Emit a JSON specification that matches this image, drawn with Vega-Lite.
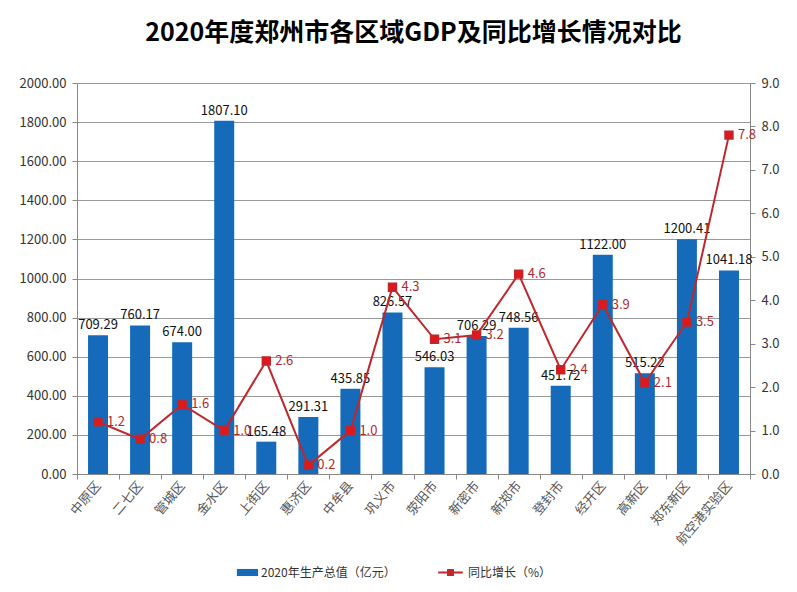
{
  "$schema": "https://vega.github.io/schema/vega-lite/v6.json",
  "width": 673,
  "height": 391,
  "autosize": {"type": "none"},
  "padding": {"left": 77, "top": 83, "right": 47, "bottom": 118},
  "background": "white",
  "title": {
    "text": "2020年度郑州市各区域GDP及同比增长情况对比",
    "fontSize": 25,
    "fontWeight": "bold",
    "font": "Noto Sans CJK SC",
    "color": "#000000",
    "anchor": "middle",
    "offset": 31
  },
  "config": {
    "view": {"stroke": null},
    "axis": {"labelFont": "Noto Sans CJK SC", "titleFont": "Noto Sans CJK SC"},
    "text": {"font": "Noto Sans CJK SC"}
  },
  "data": {
    "values": [
      {"district": "中原区", "gdp": 709.29, "growth": 1.2},
      {"district": "二七区", "gdp": 760.17, "growth": 0.8},
      {"district": "管城区", "gdp": 674.00, "growth": 1.6},
      {"district": "金水区", "gdp": 1807.10, "growth": 1.0},
      {"district": "上街区", "gdp": 165.48, "growth": 2.6},
      {"district": "惠济区", "gdp": 291.31, "growth": 0.2},
      {"district": "中牟县", "gdp": 435.85, "growth": 1.0},
      {"district": "巩义市", "gdp": 826.57, "growth": 4.3},
      {"district": "荥阳市", "gdp": 546.03, "growth": 3.1},
      {"district": "新密市", "gdp": 706.29, "growth": 3.2},
      {"district": "新郑市", "gdp": 748.56, "growth": 4.6},
      {"district": "登封市", "gdp": 451.72, "growth": 2.4},
      {"district": "经开区", "gdp": 1122.00, "growth": 3.9},
      {"district": "高新区", "gdp": 515.22, "growth": 2.1},
      {"district": "郑东新区", "gdp": 1200.41, "growth": 3.5},
      {"district": "航空港实验区", "gdp": 1041.18, "growth": 7.8}
    ]
  },
  "encoding": {
    "x": {
      "field": "district",
      "type": "nominal",
      "sort": null,
      "scale": {"paddingInner": 0, "paddingOuter": 0},
      "axis": {
        "title": null,
        "labelAngle": -50,
        "labelAlign": "right",
        "labelBaseline": "middle",
        "labelFontSize": 13,
        "labelColor": "#555555",
        "labelPadding": 4,
        "tickBand": "extent",
        "tickSize": 5,
        "tickColor": "#888888",
        "domainColor": "#888888",
        "grid": false
      }
    }
  },
  "layer": [
    {
      "encoding": {
        "y": {
          "field": "gdp",
          "type": "quantitative",
          "scale": {"domain": [0, 2000], "nice": false},
          "axis": {
            "title": null,
            "orient": "left",
            "values": [0, 200, 400, 600, 800, 1000, 1200, 1400, 1600, 1800, 2000],
            "format": ".2f",
            "labelFontSize": 13,
            "labelColor": "#333333",
            "labelPadding": 6,
            "tickSize": 5,
            "tickColor": "#888888",
            "domainColor": "#888888",
            "grid": true,
            "gridColor": "#999999",
            "gridWidth": 1
          }
        }
      },
      "layer": [
        {
          "mark": {"type": "bar", "size": 20},
          "encoding": {
            "fill": {
              "datum": "2020年生产总值（亿元）",
              "scale": {"range": ["#156BBA"]},
              "legend": {
                "title": null,
                "orient": "none",
                "legendX": 163,
                "legendY": 482,
                "symbolType": "M-1.5,-0.5H1.5V0.5H-1.5Z",
                "symbolSize": 200,
                "symbolStrokeWidth": 0,
                "labelFont": "Noto Sans CJK SC",
                "labelFontSize": 12,
                "labelColor": "#333333",
                "labelOffset": 6
              }
            }
          }
        },
        {
          "mark": {"type": "text", "dy": -10, "fontSize": 13, "color": "#111111"},
          "encoding": {
            "text": {"field": "gdp", "type": "quantitative", "format": ".2f"}
          }
        }
      ]
    },
    {
      "encoding": {
        "y": {
          "field": "growth",
          "type": "quantitative",
          "scale": {"domain": [0, 9], "nice": false},
          "axis": {
            "title": null,
            "orient": "right",
            "values": [0, 1, 2, 3, 4, 5, 6, 7, 8, 9],
            "format": ".1f",
            "labelFontSize": 13,
            "labelColor": "#333333",
            "labelPadding": 6,
            "tickSize": 5,
            "tickColor": "#888888",
            "domainColor": "#888888",
            "grid": false
          }
        }
      },
      "layer": [
        {
          "mark": {
            "type": "line",
            "strokeWidth": 2,
            "point": {"shape": "square", "size": 55, "filled": true, "color": "#E3161B"}
          },
          "encoding": {
            "stroke": {
              "datum": "同比增长（%）",
              "scale": {"range": ["#C0272D"]},
              "legend": {
                "title": null,
                "orient": "none",
                "legendX": 360,
                "legendY": 476,
                "symbolType": "M-1,0H1M-0.2,-0.2H0.2V0.2H-0.2Z",
                "symbolSize": 600,
                "symbolStrokeWidth": 2,
                "symbolFillColor": "#E3161B",
                "labelFont": "Noto Sans CJK SC",
                "labelFontSize": 12,
                "labelColor": "#333333",
                "labelOffset": 4
              }
            }
          }
        },
        {
          "mark": {"type": "text", "align": "left", "dx": 9, "fontSize": 13, "color": "#B02A2A"},
          "encoding": {
            "text": {"field": "growth", "type": "quantitative", "format": ".1f"}
          }
        }
      ]
    }
  ],
  "resolve": {"scale": {"y": "independent", "fill": "independent", "stroke": "independent"}}
}
